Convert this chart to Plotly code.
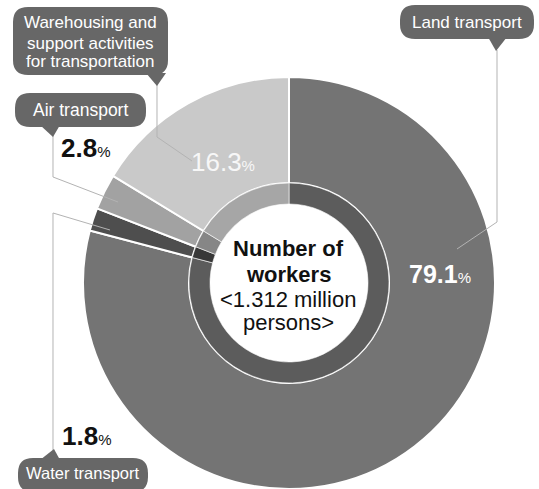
import plotly.graph_objects as go

W, H = 539, 489

# ---- data ----
categories = ["Land transport", "Water transport", "Air transport",
              "Warehousing and support activities for transportation"]
shares = [79.1, 1.8, 2.8, 16.3]
outer_colors = ["#747474", "#4e4e4e", "#a2a2a2", "#c9c9c9"]
inner_colors = ["#5c5c5c", "#383838", "#868686", "#a6a6a6"]
center_lines = ["<b>Number of</b>", "<b>workers</b>", "&lt;1.312 million", "persons&gt;"]

FONT = "Liberation Sans, Arial, sans-serif"


def px(x):
    return x / W


def py(y):
    return 1 - y / H


# pie geometry (pixels)
CX, CY, R_OUT, R_MID, R_HOLE = 289, 283, 206, 100, 79

fig = go.Figure()
fig.add_trace(go.Pie(
    labels=categories, values=shares, sort=False, direction="clockwise",
    rotation=0, hole=R_MID / R_OUT, textinfo="none", hoverinfo="label+percent",
    marker=dict(colors=outer_colors, line=dict(color="white", width=2)),
    domain=dict(x=[px(CX - R_OUT), px(CX + R_OUT)],
                y=[max(0, py(CY + R_OUT)), py(CY - R_OUT)]),
    showlegend=False,
))
fig.add_trace(go.Pie(
    labels=categories, values=shares, sort=False, direction="clockwise",
    rotation=0, hole=R_HOLE / R_MID, textinfo="none", hoverinfo="skip",
    marker=dict(colors=inner_colors, line=dict(color="white", width=0.6)),
    domain=dict(x=[px(CX - R_MID), px(CX + R_MID)],
                y=[py(CY + R_MID), py(CY - R_MID)]),
    showlegend=False,
))

shapes = []


def P(x, y):
    return f"{px(x):.5f},{py(y):.5f}"


def rrect(x0, y0, x1, y1, r, color="#676767"):
    d = (f"M {P(x0 + r, y0)} L {P(x1 - r, y0)} Q {P(x1, y0)} {P(x1, y0 + r)} "
         f"L {P(x1, y1 - r)} Q {P(x1, y1)} {P(x1 - r, y1)} L {P(x0 + r, y1)} "
         f"Q {P(x0, y1)} {P(x0, y1 - r)} L {P(x0, y0 + r)} Q {P(x0, y0)} {P(x0 + r, y0)} Z")
    shapes.append(dict(type="path", xref="paper", yref="paper", path=d,
                       fillcolor=color, line=dict(width=0)))


def poly(pts, fill=None, color="#b3b3b3", width=1):
    d = "M " + " L ".join(P(x, y) for x, y in pts)
    if fill:
        d += " Z"
        shapes.append(dict(type="path", xref="paper", yref="paper", path=d,
                           fillcolor=fill, line=dict(width=0)))
    else:
        shapes.append(dict(type="path", xref="paper", yref="paper", path=d,
                           line=dict(color=color, width=width)))


# leader lines
poly([(497, 50), (497, 222), (457, 249)])
poly([(157, 84), (157, 137), (192, 161)])
poly([(53, 134), (53, 177), (118, 202)])
poly([(53, 452), (53, 213), (110, 230)])

# label boxes + tails
rrect(400, 5, 534, 39, 15)
poly([(488, 37), (507, 37), (496, 51)], fill="#676767")
rrect(13, 7, 168, 75, 15)
poly([(146, 73), (166, 73), (157, 86)], fill="#676767")
rrect(15, 93, 146, 127, 15)
poly([(40, 125), (60, 125), (53, 137)], fill="#676767")
rrect(18, 458, 148, 492, 15)
poly([(40, 460), (60, 460), (54, 449)], fill="#676767")

ann = []


def text(x, y, t, size, color="white", xanchor="center"):
    ann.append(dict(x=px(x), y=py(y), xref="paper", yref="paper", text=t,
                    showarrow=False, xanchor=xanchor, yanchor="middle",
                    font=dict(family=FONT, size=size, color=color)))


text(467, 22, categories[0], 17)
text(90.5, 23, "Warehousing and", 17)
text(90.5, 43, "support activities", 17)
text(90.5, 62, "for transportation", 17)
text(80.5, 110, "Air transport", 17.5)
text(83, 473, "Water transport", 16.5)


def pct(v, big, bold=True):
    num = f"<b>{v}</b>" if bold else f"{v}"
    return num + f"<span style='font-size:{int(big * 0.6)}px'>%</span>"


text(59, 148, pct(shares[2], 26), 26, color="#111111", xanchor="left")
text(60, 436, pct(shares[1], 26), 26, color="#111111", xanchor="left")
text(407, 274, pct(shares[0], 25), 25, color="white", xanchor="left")
text(189, 162, pct(shares[3], 26, bold=False), 26, color="#f7f7f7", xanchor="left")

for i, (ln, yy) in enumerate(zip(center_lines, [249, 274, 299, 322])):
    text(288, yy, ln, 22, color="#111111")

fig.update_layout(
    width=W, height=H, margin=dict(l=0, r=0, t=0, b=0),
    paper_bgcolor="white", plot_bgcolor="white",
    shapes=shapes, annotations=ann, showlegend=False,
)
fig.write_html("out.html", config={"displayModeBar": False},
               post_script="document.body.style.margin='0';document.body.style.overflow='hidden';")
